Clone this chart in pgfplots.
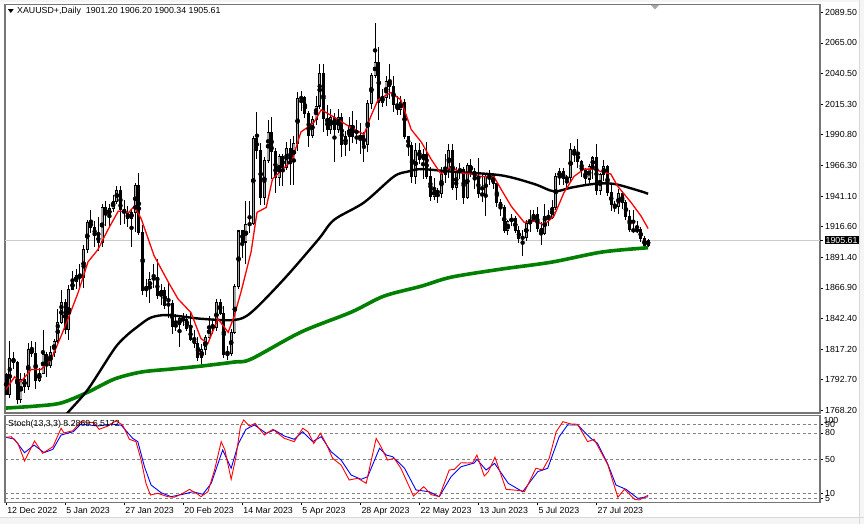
\documentclass[border=0pt]{standalone}
\usepackage{fontspec}
\setmainfont{Liberation Sans}
\usepackage{pgfplots}
\usepackage{pgfplotstable}
\pgfplotsset{compat=1.18}

\definecolor{mtgreen}{RGB}{0,128,0}
\definecolor{framegray}{RGB}{118,118,118}
\definecolor{bullfill}{RGB}{165,165,165}
\definecolor{levelgray}{RGB}{130,130,130}

% daily candles, bar index 0 = 12 Dec 2022
\pgfplotstableread{
i O H L C
0 1797 1798 1780 1781
1 1781 1824 1778 1810
2 1810 1815 1801 1807
3 1807 1808 1773 1777
4 1777 1798 1774 1793
5 1793 1798 1782 1787
6 1787 1822 1784 1817
7 1817 1824 1811 1814
8 1814 1823 1785 1792
9 1792 1802 1791 1798
10 1798 1833 1797 1813
11 1813 1815 1795 1804
12 1804 1820 1802 1815
13 1815 1826 1811 1824
14 1824 1850 1822 1839
15 1839 1865 1838 1855
16 1855 1858 1830 1833
17 1833 1869 1825 1866
18 1866 1881 1865 1872
19 1872 1882 1866 1877
20 1877 1886 1868 1875
21 1875 1902 1867 1898
22 1898 1922 1895 1920
23 1920 1930 1911 1916
24 1916 1921 1900 1909
25 1909 1924 1897 1904
26 1904 1935 1900 1932
27 1932 1937 1917 1926
28 1926 1935 1915 1931
29 1931 1942 1928 1937
30 1937 1949 1935 1946
31 1946 1949 1918 1930
32 1930 1938 1919 1928
33 1928 1933 1916 1923
34 1923 1931 1900 1928
35 1928 1952 1912 1950
36 1950 1960 1910 1912
37 1912 1918 1861 1865
38 1865 1874 1860 1867
39 1867 1880 1855 1874
40 1874 1886 1867 1875
41 1875 1890 1858 1861
42 1861 1870 1853 1865
43 1865 1868 1850 1853
44 1853 1871 1843 1854
45 1854 1857 1830 1836
46 1836 1846 1832 1837
47 1837 1845 1819 1842
48 1842 1847 1836 1841
49 1841 1846 1832 1834
50 1834 1847 1824 1825
51 1825 1833 1818 1822
52 1822 1827 1808 1811
53 1811 1822 1804 1817
54 1817 1829 1813 1827
55 1827 1844 1826 1836
56 1836 1842 1830 1835
57 1835 1858 1832 1855
58 1855 1858 1845 1846
59 1846 1852 1810 1813
60 1813 1820 1809 1814
61 1814 1834 1812 1831
62 1831 1870 1830 1868
63 1868 1914 1866 1913
64 1913 1914 1891 1904
65 1904 1937 1886 1918
66 1918 1937 1911 1919
67 1919 1990 1918 1988
68 1988 2009 1971 1978
69 1978 1984 1934 1940
70 1940 1973 1934 1970
71 1970 2003 1968 1993
72 1993 2005 1955 1977
73 1977 1980 1944 1956
74 1956 1975 1949 1973
75 1973 1975 1949 1964
76 1964 1985 1962 1980
77 1980 1987 1950 1969
78 1969 1990 1950 1984
79 1984 2025 1978 2020
80 2020 2026 2010 2021
81 2021 2022 2004 2008
82 2008 2010 1981 1990
83 1990 2006 1988 2003
84 2003 2022 1999 2014
85 2014 2048 2012 2040
86 2040 2048 1993 2004
87 2004 2015 1990 1995
88 1995 2012 1991 2005
89 2005 2008 1969 1995
90 1995 2012 1992 2005
91 2005 2008 1973 1983
92 1983 1994 1974 1989
93 1989 2005 1978 1998
94 1998 2010 1984 1989
95 1989 2003 1983 1988
96 1988 2000 1975 1990
97 1990 1993 1969 1983
98 1983 2019 1977 2016
99 2016 2041 2012 2039
100 2039 2081 2037 2049
101 2049 2062 2003 2017
102 2017 2028 2013 2021
103 2021 2038 2014 2034
104 2034 2048 2020 2030
105 2030 2038 2009 2015
106 2015 2022 2007 2011
107 2011 2022 2007 2017
108 2017 2020 1987 1989
109 1989 1990 1974 1982
110 1982 1985 1952 1957
111 1957 1984 1951 1978
112 1978 1984 1967 1971
113 1971 1979 1955 1975
114 1975 1985 1955 1957
115 1957 1965 1937 1941
116 1941 1956 1938 1946
117 1946 1948 1936 1943
118 1943 1965 1940 1959
119 1959 1975 1952 1963
120 1963 1983 1956 1978
121 1978 1983 1946 1948
122 1948 1965 1938 1961
123 1961 1968 1955 1963
124 1963 1965 1935 1940
125 1940 1968 1939 1966
126 1966 1971 1957 1961
127 1961 1964 1947 1957
128 1957 1972 1940 1943
129 1943 1959 1936 1942
130 1942 1958 1925 1957
131 1957 1962 1950 1958
132 1958 1960 1947 1951
133 1951 1952 1932 1936
134 1936 1939 1925 1932
135 1932 1934 1911 1913
136 1913 1922 1910 1921
137 1921 1927 1917 1923
138 1923 1925 1911 1913
139 1913 1917 1903 1907
140 1907 1914 1893 1908
141 1908 1922 1905 1919
142 1919 1930 1912 1921
143 1921 1930 1920 1926
144 1926 1932 1912 1915
145 1915 1920 1902 1911
146 1911 1935 1910 1925
147 1925 1930 1917 1924
148 1924 1938 1923 1932
149 1932 1960 1930 1957
150 1957 1964 1950 1961
151 1961 1964 1950 1955
152 1955 1958 1948 1956
153 1956 1984 1952 1979
154 1979 1982 1969 1976
155 1976 1987 1964 1969
156 1969 1970 1957 1962
157 1962 1964 1950 1955
158 1955 1967 1952 1965
159 1965 1974 1955 1972
160 1972 1983 1942 1946
161 1946 1960 1942 1959
162 1959 1970 1953 1965
163 1965 1966 1941 1944
164 1944 1950 1929 1934
165 1934 1937 1928 1933
166 1933 1947 1927 1943
167 1943 1945 1931 1936
168 1936 1938 1922 1925
169 1925 1930 1912 1914
170 1914 1930 1911 1913
171 1913 1921 1911 1914
172 1914 1916 1904 1907
173 1907 1909 1898 1901
174 1901.20 1906.20 1900.34 1905.61
}\ohlc

\begin{document}
\begin{tikzpicture}[x=1pt,y=1pt]
\useasboundingbox (0,0) rectangle (864,524);
\fill[gray!8] (0,0) rectangle (864,524);
\fill[white] (0,7) rectangle (859,522);
\draw[gray!30, line width=0.8pt] (859.4,0) -- (859.4,524);
\draw[gray!30, line width=0.8pt] (0,6.6) -- (864,6.6);

\pgfplotsset{
  mtaxis/.style={
    scale only axis, width=815pt,
    xmin=-0.3, xmax=220.6,
    axis line style={framegray, line width=1.2pt},
    tick align=outside, major tick length=3pt,
    tick style={black, line width=0.6pt},
    ytick pos=right, yticklabel pos=right,
    ticklabel style={font=\fontsize{8.8}{10}\selectfont, text=black},
    yticklabel style={anchor=west, inner sep=1pt, xshift=1pt},
  },
}

% price panel
\begin{axis}[mtaxis,
  at={(5pt,111pt)}, anchor=south west, height=408.5pt,
  ymin=1765.8, ymax=2096.1,
  xtick=\empty,
  ytick={1768.2,1792.7,1817.2,1842.4,1866.9,1891.4,1916.6,1941.1,1966.3,1990.8,2015.3,2040.5,2065.0,2089.5},
  yticklabels={1768.20,1792.70,1817.20,1842.40,1866.90,1891.40,1916.60,1941.10,1966.30,1990.80,2015.30,2040.50,2065.00,2089.50},
  major grid style={gray!40, line width=0.8pt},
  extra y ticks={1905.61}, extra y tick labels={1905.61},
  extra y tick style={grid=major, tick label style={fill=black, text=white, inner sep=1.6pt, xshift=0.5pt}},
]
% wicks
\addplot[only marks, mark=none, forget plot,
  error bars/.cd, y dir=both, y explicit, error mark=none,
  error bar style={black, line width=1pt}]
  table[x=i, y expr={(\thisrow{H}+\thisrow{L})/2}, y error expr={(\thisrow{H}-\thisrow{L})/2}] {\ohlc};
% bear bodies
\addplot[only marks, mark=none, forget plot,
  restrict expr to domain={\thisrow{C}-\thisrow{O}}{-1000:-0.001},
  error bars/.cd, y dir=both, y explicit, error mark=none,
  error bar style={black, line width=3pt}]
  table[x=i, y expr={(\thisrow{O}+\thisrow{C})/2}, y error expr={abs(\thisrow{O}-\thisrow{C})/2+0.4}] {\ohlc};
% bull bodies: outline then fill
\addplot[only marks, mark=none, forget plot,
  restrict expr to domain={\thisrow{C}-\thisrow{O}}{0:1000},
  error bars/.cd, y dir=both, y explicit, error mark=none,
  error bar style={black, line width=3pt}]
  table[x=i, y expr={(\thisrow{O}+\thisrow{C})/2}, y error expr={abs(\thisrow{O}-\thisrow{C})/2+0.4}] {\ohlc};
\addplot[only marks, mark=none, forget plot,
  restrict expr to domain={\thisrow{C}-\thisrow{O}}{1.5:1000},
  error bars/.cd, y dir=both, y explicit, error mark=none,
  error bar style={bullfill, line width=1.3pt}]
  table[x=i, y expr={(\thisrow{O}+\thisrow{C})/2}, y error expr={abs(\thisrow{O}-\thisrow{C})/2-0.5}] {\ohlc};

% slow MA (green)
\addplot[mtgreen, line width=3.6pt, smooth] coordinates {
(0,1769.8) (8.1,1771.4) (14.9,1773.9) (22.2,1782.7) (29.3,1793.2) (36.6,1798.9)
(44.7,1801.3) (52.8,1803.7) (61.8,1807) (66.4,1809.4) (79.9,1831.2) (93.5,1847.3)
(102.4,1860.3) (112.5,1868.3) (120.6,1875.6) (134.1,1882.1) (147.7,1887.7)
(161.2,1895.8) (172.1,1899) (174,1899.3)
};
% medium MA (black)
\addplot[black, line width=2.4pt, smooth] coordinates {
(5,1735) (10,1743) (17.1,1767.4) (22.2,1785) (29.3,1817.5) (32.5,1828) (35.8,1836)
(39.3,1843) (43.9,1845) (52.8,1842) (61.8,1841) (66.4,1847) (75.3,1874)
(84.6,1906) (88.9,1922) (97,1936) (105.1,1957) (108.9,1961) (112.5,1963)
(120.6,1961) (134.1,1958) (143.1,1951) (148.5,1945) (153.1,1948) (159.3,1951)
(164.8,1951) (172.1,1945) (174,1943)
};
% fast MA (red)
\addplot[red, line width=1.3pt] coordinates {
(0,1785) (2.3,1795) (4,1791) (6.8,1801) (9.5,1801) (12.2,1809) (14.9,1828)
(16.8,1842) (19.5,1863) (22.2,1888) (24.9,1898) (27.6,1914) (30.4,1929)
(33.3,1928) (34.7,1933) (36.6,1923) (38,1911) (40.1,1893) (43.9,1872)
(46.6,1858) (50.1,1847) (52.8,1826) (54.7,1822) (57.4,1842) (60.2,1831)
(61.8,1844) (63.7,1864) (66.4,1896) (68,1928) (70.5,1932) (72.2,1955)
(75,1963) (77.5,1970) (79.9,1993) (81.8,1997) (83.5,2001) (85.4,2011)
(88.9,2005) (92.7,1998) (97,1991) (98.9,2006) (100.8,2019) (104.3,2025)
(107,2019) (109.8,1995) (112.5,1985) (115.2,1971) (117.9,1959) (120.6,1965)
(123.3,1960) (126,1959) (128.7,1957) (132.2,1957) (134.1,1947) (136.9,1933)
(140.4,1920) (143.1,1921) (145.8,1918) (148.5,1925) (151.2,1944) (153.9,1957)
(156.6,1963) (159.3,1963) (161.2,1961) (163.9,1959) (165.8,1949) (169.4,1936)
(172.1,1925) (174,1915)
};
\end{axis}

% stochastic panel
\begin{axis}[mtaxis,
  at={(5pt,21.6pt)}, anchor=south west, height=86.8pt,
  ymin=0, ymax=100,
  xtick={0,16,32,48,64,80,96,112,128,144,160},
  xticklabels={12 Dec 2022,5 Jan 2023,27 Jan 2023,20 Feb 2023,14 Mar 2023,5 Apr 2023,28 Apr 2023,22 May 2023,13 Jun 2023,5 Jul 2023,27 Jul 2023},
  xtick pos=bottom,
  xticklabel style={anchor=north west, inner sep=0pt, xshift=1pt, yshift=-2pt},
  ytick={5,10,50,80,90}, yticklabels={5,10,50,80,90},
  ymajorgrids, major grid style={levelgray, line width=0.7pt, dash pattern=on 3pt off 2.5pt},
]
\addplot[blue, line width=0.9pt] coordinates {
(0,75) (2.2,73) (5,57.3) (7.6,66) (10.3,57.3) (12.7,61.2) (14.9,77.6) (18.2,81.5)
(20.3,90.3) (24.9,88) (28.5,90.3) (31.2,89) (34.3,73.8) (35.7,70) (37.5,41.1)
(39.3,20) (42,11.2) (44.7,6.6) (47.9,9.3) (50.6,12.3) (53.3,9.3) (55.6,22)
(58.7,60.4) (61,39.3) (63,68) (65,84.2) (67.3,89.2) (70.5,79.6) (72.7,83.4)
(75.4,76.5) (78.1,72.7) (80.4,81.5) (83.1,70) (85.4,75.7) (88.1,58.4) (90.8,48.8)
(93.5,31.6) (96.2,26.6) (98,29.6) (101.2,62.3) (103,54.6) (104.8,52.6) (108,39.3)
(111.1,14.3) (114.7,12.3) (117.4,6.6) (120.6,29.6) (123.3,41.1) (126.9,45.4)
(127.6,49.6) (130.1,37.3) (132.4,45) (136.1,22) (140,12.3) (144.1,35.4)
(146.8,39.3) (149.9,75.7) (152.2,89.2) (154.9,89.2) (158.5,73.8) (160.3,68)
(163,45) (165.3,20) (168,15.1) (171.2,4.7) (174,6.5)
};
\addplot[red, line width=0.9pt] coordinates {
(0,75) (1.4,75.7) (3.2,68) (5,47.7) (7.7,70.7) (9.9,56.6) (12.7,64.2) (14.9,85.4)
(15.7,80) (18.1,82.6) (20.3,93) (23.8,91.8) (25.2,84.2) (27.6,88) (29.8,94)
(31.6,89) (33.4,72.7) (35.2,70) (36.6,48.8) (37.9,22) (39.1,8.5) (41.1,10.5)
(43.8,6.6) (45.6,5.9) (47.9,10.5) (49.7,15) (52,9.3) (52.8,6.6) (54.7,12.3)
(56.5,37.3) (58.3,70) (59.3,60.4) (61,26.6) (62.3,52.6) (63.5,87.2) (64.4,95)
(65.9,88) (67.5,91) (70,77.6) (72.3,84.2) (75.4,73.8) (78.1,70) (80.4,85.4)
(81.8,81.5) (83.4,68) (85.2,79.6) (86.7,68) (88.5,50.8) (90.8,43.1) (93,25.8)
(95.3,27.8) (97.6,22) (100.3,73.8) (101.6,64.2) (103.4,48.8) (105.2,50.8)
(107,39.3) (110.4,7.4) (113.2,18.1) (115.2,9) (117.4,6.6) (120.1,37.3)
(121.5,38.1) (123.3,45.7) (125.1,45.4) (126.5,45.7) (127.6,54.6) (129.6,30.4)
(130.7,35.4) (132.5,52) (135.5,15.1) (139.6,13.5) (140.5,12.3) (143.6,39.3)
(145.4,37.3) (147.2,50.8) (149.1,81.5) (150.9,93) (153.1,90.3) (154.9,90)
(157.6,70) (159.4,72.7) (163.1,43.1) (165.8,5.9) (167.6,15.1) (170.3,3.6)
(171.6,2.8) (174,8.3)
};
\end{axis}

% labels and markers of the terminal
\fill[black] (8,514.8) -- (13.6,514.8) -- (10.8,511) -- cycle;
\node[anchor=west, inner sep=0pt, font=\fontsize{8.8}{10}\selectfont] at (17,512.6)
  {XAUUSD+,Daily\ \ 1901.20 1906.20 1900.34 1905.61};
\fill[gray!70] (651,519) -- (659,519) -- (655,514.5) -- cycle;
\node[anchor=west, inner sep=0pt, font=\fontsize{8.8}{10}\selectfont] at (8,100)
  {Stoch(13,3,3) 8.2869 6.5172};
\node[anchor=west, inner sep=0pt, font=\fontsize{8.8}{10}\selectfont] at (823.5,103.5) {100};
\end{tikzpicture}
\end{document}
